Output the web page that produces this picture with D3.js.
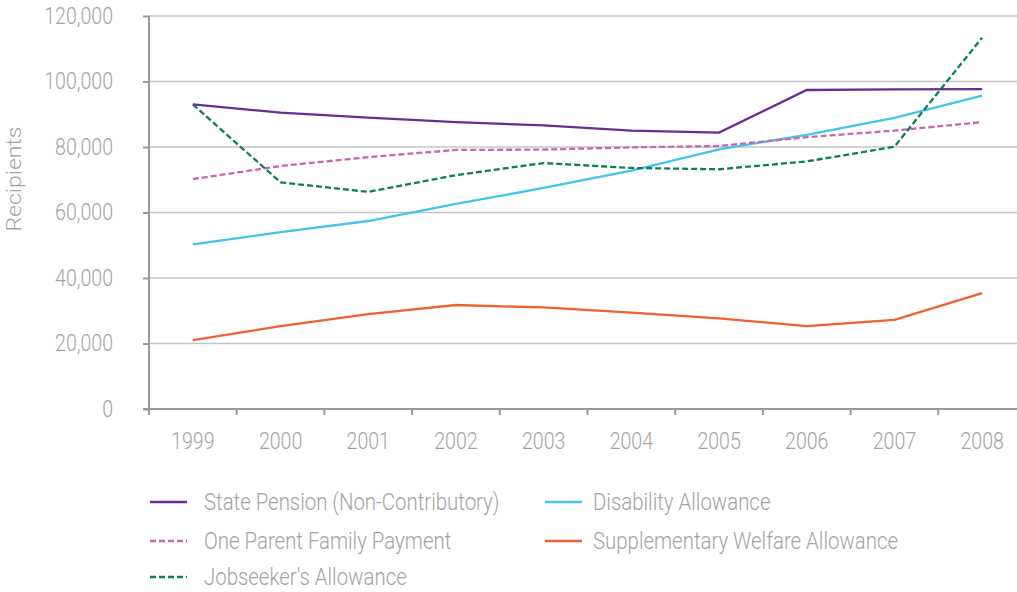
<!DOCTYPE html>
<html>
<head>
<meta charset="utf-8">
<script src="https://cdn.jsdelivr.net/npm/d3@7"></script>
<style>
body { margin: 0; background: #fff; }
svg { display: block; font-family: Roboto, "Open Sans", sans-serif; font-weight: 300; }
</style>
</head>
<body>
<script>
const years = ['1999','2000','2001','2002','2003','2004','2005','2006','2007','2008'];
const statePension = [93000, 90500, 89000, 87600, 86600, 85000, 84400, 97400, 97600, 97700];
const oneParent = [70200, 74200, 76900, 79100, 79200, 79900, 80300, 83000, 85000, 87600];
const jobseekers = [93000, 69200, 66300, 71400, 75100, 73600, 73200, 75600, 80100, 113400];
const disability = [50300, 54000, 57400, 62600, 67500, 72800, 79300, 83700, 88900, 95700];
const supplementary = [21000, 25300, 29000, 31750, 31000, 29400, 27700, 25300, 27200, 35400];
const yTicks = [0, 20000, 40000, 60000, 80000, 100000, 120000];

const series = [
  {name: 'State Pension (Non-Contributory)', values: statePension, color: '#6a2c94', dash: null},
  {name: 'One Parent Family Payment', values: oneParent, color: '#c966b2', dash: '6,3'},
  {name: "Jobseeker's Allowance", values: jobseekers, color: '#0b7f59', dash: '6,3'},
  {name: 'Disability Allowance', values: disability, color: '#43c3ee', dash: null},
  {name: 'Supplementary Welfare Allowance', values: supplementary, color: '#f1612f', dash: null}
];

const W = 1017, H = 592;
const sx = 0.85; // text in the original is squeezed horizontally
const svg = d3.select('body').append('svg').attr('width', W).attr('height', H);

const x = d3.scaleBand().domain(years).range([149, 1026]);
const y = d3.scaleLinear().domain([0, 120000]).range([409, 16]);
const textColor = '#a3a3a3';

// gridlines
svg.append('g').selectAll('line').data(yTicks.slice(1)).enter().append('line')
  .attr('x1', 149).attr('x2', W)
  .attr('y1', d => y(d)).attr('y2', d => y(d))
  .attr('stroke', '#c4c4c4').attr('stroke-width', 1.3);

// y axis
const yAxis = svg.append('g').attr('transform', 'translate(149,0)')
  .call(d3.axisLeft(y).tickValues(yTicks).tickSize(6).tickPadding(30).tickFormat(d3.format(',')));
yAxis.select('.domain').attr('stroke', '#9a9a9a').attr('stroke-width', 2).attr('d', 'M0,16V409');
yAxis.selectAll('.tick line').attr('stroke', '#9a9a9a').attr('stroke-width', 2);
yAxis.selectAll('.tick text')
  .attr('fill', textColor).style('font-size', '23px').style('font-family', 'Roboto, sans-serif').style('font-weight', 300)
  .attr('x', -36 / sx).attr('transform', 'scale(' + sx + ',1)');

// x axis
const xAxis = svg.append('g').attr('transform', 'translate(0,409)')
  .call(d3.axisBottom(x).tickSize(0).tickPadding(24));
xAxis.select('.domain').attr('stroke', '#9a9a9a').attr('stroke-width', 2).attr('d', 'M143,0H' + W);
xAxis.selectAll('.tick text')
  .attr('fill', textColor).style('font-size', '23px').style('font-family', 'Roboto, sans-serif').style('font-weight', 300)
  .attr('transform', 'scale(' + sx + ',1)');
xAxis.selectAll('.tickmark').data(years).enter().append('line')
  .attr('class', 'tickmark')
  .attr('x1', d => x(d)).attr('x2', d => x(d))
  .attr('y1', 0).attr('y2', 6)
  .attr('stroke', '#9a9a9a').attr('stroke-width', 2);

// y title
svg.append('text')
  .attr('transform', 'translate(21,179) scale(' + sx + ',1) rotate(-90)')
  .attr('text-anchor', 'middle')
  .attr('fill', textColor)
  .style('font-size', '23px')
  .text('Recipients');

// lines
const line = d3.line()
  .x((d, i) => x(years[i]) + x.bandwidth() / 2)
  .y(d => y(d));

const drawOrder = [4, 3, 1, 2, 0];
drawOrder.forEach(k => {
  const s = series[k];
  svg.append('path')
    .datum(s.values)
    .attr('d', line)
    .attr('fill', 'none')
    .attr('stroke', s.color)
    .attr('stroke-width', 2.3)
    .attr('stroke-dasharray', s.dash);
});

// legend
const legendPos = [
  {x: 150, y: 502, tx: 54}, {x: 150, y: 541, tx: 54}, {x: 150, y: 577, tx: 54},
  {x: 545, y: 502, tx: 48}, {x: 545, y: 541, tx: 48}
];
series.forEach((s, i) => {
  const p = legendPos[i];
  const g = svg.append('g').attr('transform', 'translate(' + p.x + ',' + p.y + ')');
  g.append('line').attr('x1', 0).attr('x2', 37).attr('y1', 0).attr('y2', 0)
    .attr('stroke', s.color).attr('stroke-width', 2.3)
    .attr('stroke-dasharray', s.dash);
  g.append('text')
    .attr('transform', 'translate(' + p.tx + ',0) scale(' + sx + ',1)')
    .attr('dy', '0.33em')
    .attr('fill', textColor).style('font-size', '24px')
    .text(s.name);
});
</script>
</body>
</html>
